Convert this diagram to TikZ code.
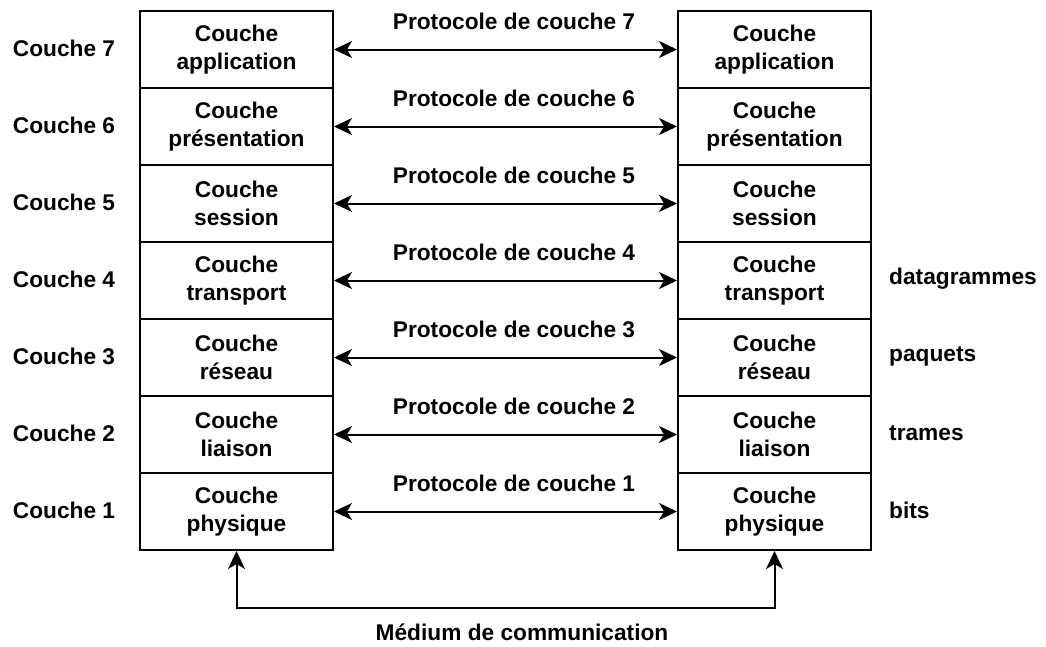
\documentclass[tikz,border=0pt]{standalone}
\usepackage{fontspec}
\setmainfont{Liberation Sans}
\usetikzlibrary{arrows.meta}
\tikzset{
  layer/.style={rectangle, draw, line width=2pt, minimum height=77pt, minimum width=193pt, align=center, inner sep=0pt},
  proto/.style={{Stealth[length=18pt,width=17pt,inset=5pt]}-{Stealth[length=18pt,width=17pt,inset=5pt]}, line width=2pt},
  tag/.style={inner sep=0pt}
}
\begin{document}
\begin{tikzpicture}[x=1pt, y=-1pt, font=\fontsize{22.7}{28}\selectfont\bfseries]
  \useasboundingbox (0,0) rectangle (1046,646);
  % Left stack
  \node (L7) [layer] at (236.5, 49.5) {Couche\\application};
  \node (L6) [layer] at (236.5, 126.5) {Couche\\présentation};
  \node (L5) [layer] at (236.5, 203.5) {Couche\\session};
  \node (L4) [layer] at (236.5, 280.5) {Couche\\transport};
  \node (L3) [layer] at (236.5, 357.5) {Couche\\réseau};
  \node (L2) [layer] at (236.5, 434.5) {Couche\\liaison};
  \node (L1) [layer] at (236.5, 511.5) {Couche\\physique};
  % Right stack
  \node (R7) [layer] at (774.5, 49.5) {Couche\\application};
  \node (R6) [layer] at (774.5, 126.5) {Couche\\présentation};
  \node (R5) [layer] at (774.5, 203.5) {Couche\\session};
  \node (R4) [layer] at (774.5, 280.5) {Couche\\transport};
  \node (R3) [layer] at (774.5, 357.5) {Couche\\réseau};
  \node (R2) [layer] at (774.5, 434.5) {Couche\\liaison};
  \node (R1) [layer] at (774.5, 511.5) {Couche\\physique};
  % Layer numbers
  \node (N7) [tag] at (64, 48) {Couche 7};
  \node (N6) [tag] at (64, 125) {Couche 6};
  \node (N5) [tag] at (64, 202) {Couche 5};
  \node (N4) [tag] at (64, 279) {Couche 4};
  \node (N3) [tag] at (64, 356) {Couche 3};
  \node (N2) [tag] at (64, 433) {Couche 2};
  \node (N1) [tag] at (64, 510) {Couche 1};
  % Data units
  \node (D4) [tag, anchor=west] at (889, 279) {datagrammes};
  \node (D3) [tag, anchor=west] at (889, 356) {paquets};
  \node (D2) [tag, anchor=west] at (889, 433) {trames};
  \node (D1) [tag, anchor=west] at (889, 510) {bits};
  % Protocols
  \draw[proto] (L7) -- (R7) node[midway, xshift=8.5pt, yshift=28.5pt] {Protocole de couche 7};
  \draw[proto] (L6) -- (R6) node[midway, xshift=8.5pt, yshift=28.5pt] {Protocole de couche 6};
  \draw[proto] (L5) -- (R5) node[midway, xshift=8.5pt, yshift=28.5pt] {Protocole de couche 5};
  \draw[proto] (L4) -- (R4) node[midway, xshift=8.5pt, yshift=28.5pt] {Protocole de couche 4};
  \draw[proto] (L3) -- (R3) node[midway, xshift=8.5pt, yshift=28.5pt] {Protocole de couche 3};
  \draw[proto] (L2) -- (R2) node[midway, xshift=8.5pt, yshift=28.5pt] {Protocole de couche 2};
  \draw[proto] (L1) -- (R1) node[midway, xshift=8.5pt, yshift=28.5pt] {Protocole de couche 1};
  % Medium
  \draw[proto] (L1.south) -- ++(0,57) -| (R1.south);
  \node (medium) [tag] at (522, 632) {Médium de communication};
\end{tikzpicture}
\end{document}
